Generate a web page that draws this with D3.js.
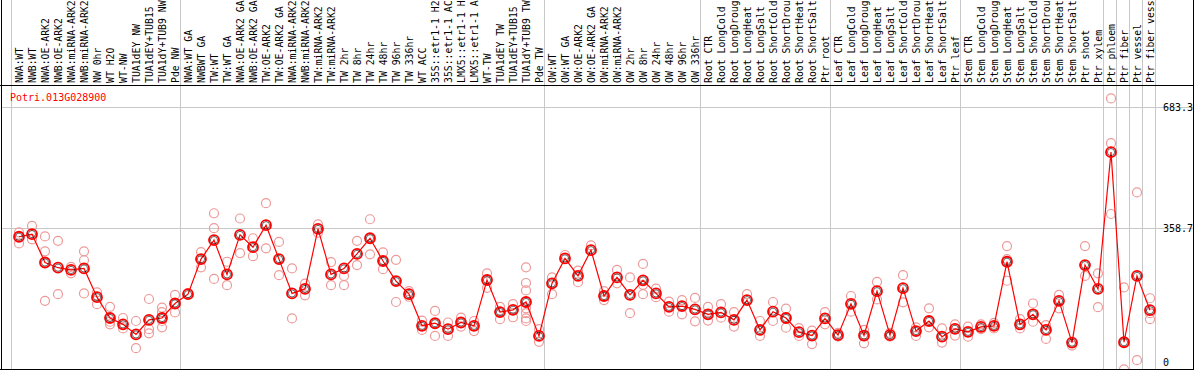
<!DOCTYPE html>
<html>
<head>
<meta charset="utf-8">
<script src="https://cdn.jsdelivr.net/npm/d3@7"></script>
<style>
  body { margin: 0; background: #fff; }
  svg { display: block; }
  text { font-family: "DejaVu Sans Mono", monospace; font-size: 10px; }
</style>
</head>
<body>
<div id="chart"></div>
<script>
// sample names along the top
const labels = [
    "NWA:WT", "NWB:WT", "NWA:OE-ARK2", "NWB:OE-ARK2", "NWA:miRNA-ARK2", "NWB:miRNA-ARK2",
    "NW 0hr", "WT H2O", "WT-NW", "TUA1dEY NW", "TUA1dEY+TUB15 NW", "TUA1dY+TUB9 NW", "Pde NW",
    "NWA:WT GA", "NWBWT GA", "TW:WT", "TW:WT GA", "NWA:OE-ARK2 GA", "NWB:OE-ARK2 GA",
    "TW:OE-ARK2", "TW:OE-ARK2 GA", "NWA:miRNA-ARK2", "NWB:miRNA-ARK2", "TW:miRNA-ARK2",
    "TW:miRNA-ARK2", "TW 2hr", "TW 8hr", "TW 24hr", "TW 48hr", "TW 96hr", "TW 336hr",
    "WT ACC", "35S::etr1-1 H2O", "35S::etr1-1 ACC", "LMX5::etr1-1 H2O", "LMX5::etr1-1 ACC",
    "WT-TW", "TUA1dEY TW", "TUA1dEY+TUB15 TW", "TUA1dY+TUB9 TW", "Pde TW",
    "OW:WT", "OW:WT GA", "OW:OE-ARK2", "OW:OE-ARK2 GA", "OW:miRNA-ARK2", "OW:miRNA-ARK2",
    "OW 2hr", "OW 8hr", "OW 24hr", "OW 48hr", "OW 96hr", "OW 336hr",
    "Root CTR", "Root LongCold", "Root LongDrought", "Root LongHeat", "Root LongSalt",
    "Root ShortCold", "Root ShortDrought", "Root ShortHeat", "Root ShortSalt", "Ptr root",
    "Leaf CTR", "Leaf LongCold", "Leaf LongDrought", "Leaf LongHeat", "Leaf LongSalt",
    "Leaf ShortCold", "Leaf ShortDrought", "Leaf ShortHeat", "Leaf ShortSalt", "Ptr leaf",
    "Stem CTR", "Stem LongCold", "Stem LongDrought", "Stem LongHeat", "Stem LongSalt",
    "Stem ShortCold", "Stem ShortDrought", "Stem ShortHeat", "Stem ShortSalt", "Ptr shoot",
    "Ptr xylem", "Ptr phloem", "Ptr fiber", "Ptr vessel", "Ptr fiber vessel"
];

// mean expression per sample
const means = [
    336, 343, 267, 253, 247, 251, 174, 118, 101, 74, 113, 118, 157,
    182, 276, 327, 235, 341, 308, 367, 276, 184, 196, 357, 235, 251, 290, 332, 271, 217, 182,
    97, 104, 88, 106, 97, 220, 134, 140, 161, 70,
    211, 278, 231, 300, 177, 227, 180, 219, 184, 148, 150, 141,
    128, 133, 113, 166, 86, 135, 118, 80, 71, 117,
    72, 156, 71, 190, 72, 198, 83, 110, 68, 89,
    81, 94, 97, 269, 101, 128, 86, 164, 52, 260, 196,
    563, 53, 231, 139
];

// individual replicates per sample
const reps = [
    [348, 318], [365, 329], [337, 297, 164], [325, 182], [255, 238], [297, 273, 184],
    [187, 155], [148, 101, 108], [118, 90], [110, 37], [169, 88, 77], [146, 134, 110, 93], [180, 133],
    [185], [295, 254], [399, 359, 223], [269, 206], [385, 292], [332, 284], [426, 305],
    [322, 233], [251, 117], [210, 179], [369, 347], [268, 206], [231, 206], [325, 260],
    [383, 289], [294, 249], [274, 161], [190, 175],
    [111, 86], [137, 70], [106, 70], [119, 95], [110, 83], [238, 199], [148, 115], [155, 120],
    [254, 212, 192, 144, 131, 117, 110], [88, 54],
    [227, 182], [287], [245, 214], [313], [190, 166], [247, 211], [227, 131], [263, 207, 182],
    [197, 174], [162, 135], [166, 128], [172, 109],
    [148, 111], [155, 119], [134, 95], [182], [110, 70], [161, 110], [143, 92], [91, 70],
    [84, 48], [134, 101],
    [68, 78], [177, 135], [86, 50], [215, 168], [68, 78], [233, 160], [93, 70], [144, 93],
    [90, 52], [101, 71],
    [95, 68], [101, 88], [90, 105], [311, 276, 218], [115, 90], [157, 108], [99, 62],
    [180, 144], [44], [311, 231], [238, 147],
    [707, 587, 397], [200, -20], [455, 5], [171, 131, 115]
];

// first sample of each block, last entry closes the final block
const groupStarts = [0, 13, 41, 53, 63, 73, 84, 85, 86, 87, 88];

const yTicks = [683.3, 358.7, 0];
const geneName = "Potri.013G028900";

const width = 1194, height = 370;
const plotTop = 85, plotBottom = 369, plotLeft = 1.5, plotRight = 1193;
const maxChars = 14;   // header is only tall enough for this many

const svg = d3.select("#chart").append("svg")
    .attr("width", width)
    .attr("height", height);

const x = d3.scaleLinear().domain([0, labels.length - 1]).range([19, 19 + 13 * (labels.length - 1)]);
const y = d3.scaleLinear().domain([0, 683.3]).range([362, 107.3]);

// grey grid
svg.selectAll(".vgrid")
    .data(groupStarts)
    .enter().append("line")
    .attr("x1", d => x(d) - 7.5).attr("x2", d => x(d) - 7.5)
    .attr("y1", 0).attr("y2", plotBottom)
    .attr("stroke", "#c8c8c8").attr("stroke-width", 1);

svg.selectAll(".hgrid")
    .data(yTicks.filter(d => d > 0))
    .enter().append("line")
    .attr("x1", plotLeft).attr("x2", plotRight)
    .attr("y1", d => Math.round(y(d)) + 0.5).attr("y2", d => Math.round(y(d)) + 0.5)
    .attr("stroke", "#c8c8c8").attr("stroke-width", 1);

// frame
svg.append("line").attr("x1", 0).attr("x2", width).attr("y1", plotTop + 0.5).attr("y2", plotTop + 0.5)
    .attr("stroke", "#000");
svg.append("line").attr("x1", 0).attr("x2", width).attr("y1", plotBottom + 0.5).attr("y2", plotBottom + 0.5)
    .attr("stroke", "#000");
svg.append("line").attr("x1", plotLeft).attr("x2", plotLeft).attr("y1", 0).attr("y2", height)
    .attr("stroke", "#000");
svg.append("line").attr("x1", plotRight + 0.5).attr("x2", plotRight + 0.5).attr("y1", 0).attr("y2", height)
    .attr("stroke", "#000");

// rotated sample labels, cut to what the header shows
svg.selectAll(".lab")
    .data(labels)
    .enter().append("text")
    .attr("transform", (d, i) => "translate(" + (x(i) + 3.5) + "," + (plotTop - 2) + ") rotate(-90)")
    .attr("fill", "#000")
    .style("font-size", "9.8px")
    .text(d => d.slice(0, maxChars));

// y tick labels on the right
svg.selectAll(".ytick")
    .data(yTicks)
    .enter().append("text")
    .attr("x", 1163)
    .attr("y", d => y(d) + 4)
    .attr("fill", "#000")
    .text(d => d);

svg.append("text")
    .attr("x", 10).attr("y", 101)
    .attr("fill", "#ff0000")
    .text(geneName);

svg.append("clipPath").attr("id", "clip")
    .append("rect").attr("x", plotLeft).attr("y", plotTop + 1)
    .attr("width", plotRight - plotLeft).attr("height", plotBottom - plotTop - 1);
const plot = svg.append("g").attr("clip-path", "url(#clip)");

// replicates
const repPoints = [];
reps.forEach((r, i) => r.forEach(v => repPoints.push([i, v])));

plot.selectAll(".rep")
    .data(repPoints)
    .enter().append("circle")
    .attr("cx", d => x(d[0]))
    .attr("cy", d => y(d[1]))
    .attr("r", 4.5)
    .attr("fill", "none")
    .attr("stroke", "#ee9999")
    .attr("stroke-width", 1.2);

// mean line
plot.append("path")
    .datum(means)
    .attr("fill", "none")
    .attr("stroke", "#ff0000")
    .attr("stroke-width", 1.2)
    .attr("d", d3.line().x((d, i) => x(i)).y(d => y(d)));

plot.selectAll(".mean")
    .data(means)
    .enter().append("circle")
    .attr("cx", (d, i) => x(i))
    .attr("cy", d => y(d))
    .attr("r", 5)
    .attr("fill", "none")
    .attr("stroke", "#ff0000")
    .attr("stroke-width", 1.8);

plot.selectAll(".meanin")
    .data(means)
    .enter().append("circle")
    .attr("cx", (d, i) => x(i))
    .attr("cy", d => y(d))
    .attr("r", 3.6)
    .attr("fill", "none")
    .attr("stroke", "#000")
    .attr("stroke-width", 0.6);
</script>
</body>
</html>
